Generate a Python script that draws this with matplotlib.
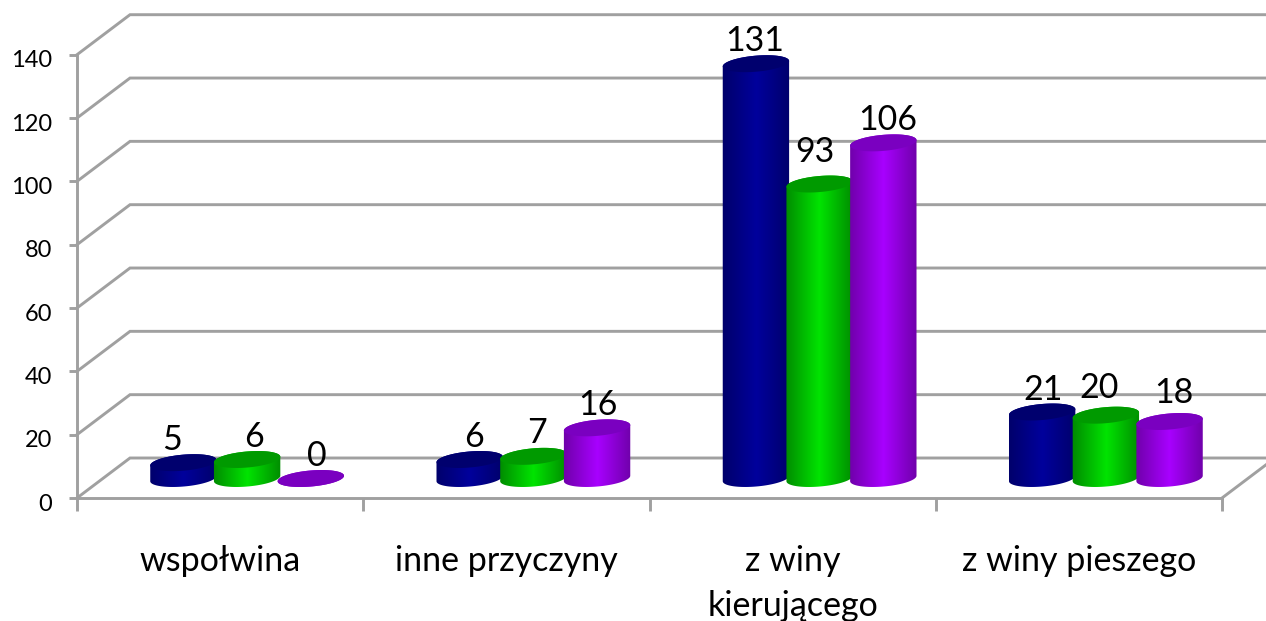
import numpy as np
import matplotlib
matplotlib.use("Agg")
import matplotlib.pyplot as plt
from matplotlib.path import Path
from matplotlib.patches import PathPatch
from matplotlib.colors import LinearSegmentedColormap
from matplotlib.transforms import ScaledTranslation

categories = ["wspołwina", "inne przyczyny", "z winy\nkierującego", "z winy pieszego"]
series_a = [5, 6, 131, 21]
series_b = [6, 7, 93, 20]
series_c = [0, 16, 106, 18]
y_ticks = [0, 20, 40, 60, 80, 100, 120, 140]

W, H = 1266, 621
L, R, T, B = 77, 1222, 54.7, 498
plt.rcParams['font.family'] = ['Lato', 'DejaVu Sans']
fig = plt.figure(figsize=(W / 100, H / 100), dpi=100, facecolor='white')
ax = fig.add_axes([L / W, 1 - B / H, (R - L) / W, (B - T) / H])
ax.set_xlim(0, 4)
ax.set_ylim(0, 140)
ax.patch.set_visible(False)

sx = (R - L) / 4      # px per category
sy = (B - T) / 140    # px per unit
px = lambda v: v / sx
py = lambda v: v / sy
GRID = '#a0a0a0'
LW = 2.1
DX, DY = px(53), py(40)

# walls and floor
for v in y_ticks:
    ax.plot([0, DX, 4 + DX], [v, v + DY, v + DY], color=GRID, lw=LW, clip_on=False, zorder=1,
            solid_joinstyle='miter')
ax.plot([4, 4 + DX], [0, DY], color=GRID, lw=LW, clip_on=False, zorder=1)

for s in ['top', 'right']:
    ax.spines[s].set_visible(False)
for s in ['left', 'bottom']:
    ax.spines[s].set_color(GRID)
    ax.spines[s].set_linewidth(LW)
    ax.spines[s].set_zorder(1.5)
ax.set_yticks(y_ticks)
ax.tick_params(axis='y', length=6, width=LW, color=GRID, labelsize=17, pad=12, labelcolor='black')
for lab in ax.get_yticklabels():
    lab.set_transform(lab.get_transform() + ScaledTranslation(0, -3 / 72, fig.dpi_scale_trans))
ax.set_xticks(range(5))
ax.set_xticklabels([])
ax.tick_params(axis='x', which='major', length=9, width=LW, color=GRID)
ax.set_xticks(np.arange(4) + 0.5, categories, minor=True, linespacing=1.5)
ax.tick_params(axis='x', which='minor', length=0, labelsize=24.5, pad=33.5, labelcolor='black')

# cylinders
def cmap(edge, mid):
    return LinearSegmentedColormap.from_list('c', [edge, mid, edge])

styles = [
    (cmap('#00006a', '#00009c'), '#00006e'),
    (cmap('#008a00', '#00e400'), '#009a00'),
    (cmap('#6e00a8', '#a800ff'), '#7a00c0'),
]
A, Bb, TILT = 33.3, 8.0, np.radians(5)
BAR = px(63.7)
BASE_DX, BASE_DY = px(27), py(19.5)

def ellipse(cx, cy, t):
    ex = A * np.cos(t) * np.cos(TILT) - Bb * np.sin(t) * np.sin(TILT)
    ey = A * np.cos(t) * np.sin(TILT) + Bb * np.sin(t) * np.cos(TILT)
    return cx + px(ex), cy + py(ey)

t0 = np.arctan2(-Bb * np.sin(TILT), A * np.cos(TILT))   # rightmost point of the ellipse
grad = np.linspace(0, 1, 256).reshape(1, -1)
all_series = [series_a, series_b, series_c]
label_shift = [[(-11, 0), (7, 0), (6, 0)],
               [(4, 0), (4, 0), (1, 0)],
               [(-1, 0), (-5, -9), (4, 0)],
               [(1, 1), (-7, -4), (4, -6)]]

for j, (vals, (cm, top)) in enumerate(zip(all_series, styles)):
    for i, v in enumerate(vals):
        cx = i + 0.5 + BASE_DX + (j - 1) * BAR
        cy0 = BASE_DY
        cy1 = BASE_DY + v
        z = 3 + j + i * 0.01
        tu = np.linspace(t0, t0 + np.pi, 60)
        tl = np.linspace(t0 + np.pi, t0 + 2 * np.pi, 60)
        xu, yu = ellipse(cx, cy1, tu)
        xl, yl = ellipse(cx, cy0, tl)
        pts = np.column_stack([np.r_[xu, xl], np.r_[yu, yl]])
        clip = PathPatch(Path(np.vstack([pts, pts[0]]), closed=True), transform=ax.transData)
        hw = px(A + 1)
        im = ax.imshow(grad, cmap=cm, extent=[cx - hw, cx + hw, cy0 - py(12), cy1 + py(12)],
                       aspect='auto', zorder=z, interpolation='bilinear')
        im.set_clip_path(clip)
        im.set_clip_box(fig.bbox)
        tt = np.linspace(0, 2 * np.pi, 120)
        xt, yt = ellipse(cx, cy1, tt)
        ax.fill(xt, yt, color=top, lw=0, zorder=z + 0.001, clip_on=False)
        dx, dy = label_shift[i][j]
        ax.annotate(str(v), (cx, cy1), xytext=(dx * 0.72, (23 - dy) * 0.72), textcoords='offset points',
                    ha='center', va='center', fontsize=24.5, color='black', zorder=10,
                    annotation_clip=False)

ax.set_xlim(0, 4)
ax.set_ylim(0, 140)
fig.savefig('out.png', dpi=100, facecolor='white')
